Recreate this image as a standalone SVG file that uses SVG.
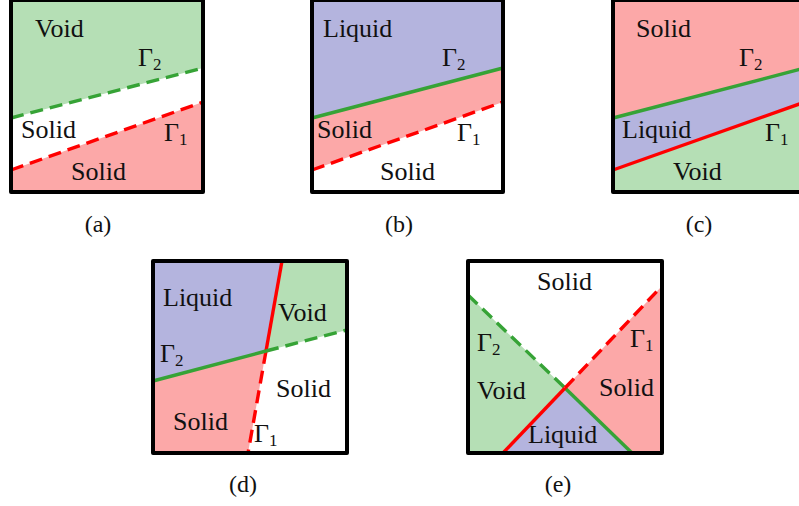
<svg xmlns="http://www.w3.org/2000/svg" width="799" height="506" viewBox="0 0 799 506" font-family="'Liberation Serif', 'Times New Roman', 'DejaVu Serif', serif">
<style>
text{font-family:"Liberation Serif","Times New Roman","DejaVu Serif",serif;font-size:26px;fill:#111}
.lbl{font-size:24px;text-anchor:middle}
.sub{font-size:17px}
.g{fill:#b5dfb5}
.b{fill:#b4b4de}
.p{fill:#fca8a8}
.frame{fill:none;stroke:#000;stroke-width:4;stroke-linejoin:round}
.ln{fill:none;stroke-width:3.4}
.red{stroke:#ff0000}
.grn{stroke:#36a336}
.dash{stroke-dasharray:13 7}
</style>
<rect width="799" height="506" fill="#fff"/>
<g id="panel-a">
<polygon class="g" points="11,0 203,0 203,68 11,118"/>
<polygon class="p" points="11,170 203,102 203,192 11,192"/>
<text x="35" y="37">Void</text>
<text x="138" y="66">Γ<tspan class="sub" dy="4">2</tspan></text>
<text x="21" y="138">Solid</text>
<text x="164" y="141">Γ<tspan class="sub" dy="4">1</tspan></text>
<text x="71" y="180">Solid</text>
<text class="lbl" x="98" y="232">(a)</text>
</g>
<g id="panel-b">
<polygon class="b" points="312,0 503,0 503,68 312,118"/>
<polygon class="p" points="312,118 503,68 503,102 312,170"/>
<text x="323" y="37">Liquid</text>
<text x="442" y="66">Γ<tspan class="sub" dy="4">2</tspan></text>
<text x="317" y="138">Solid</text>
<text x="457" y="141">Γ<tspan class="sub" dy="4">1</tspan></text>
<text x="380" y="180">Solid</text>
<text class="lbl" x="399" y="232">(b)</text>
</g>
<g id="panel-c">
<polygon class="p" points="613,0 805,0 805,68 613,118"/>
<polygon class="b" points="613,118 805,68 805,102 613,170"/>
<polygon class="g" points="613,170 805,102 805,192 613,192"/>
<text x="636" y="37">Solid</text>
<text x="739" y="66">Γ<tspan class="sub" dy="4">2</tspan></text>
<text x="622" y="138">Liquid</text>
<text x="765" y="141">Γ<tspan class="sub" dy="4">1</tspan></text>
<text x="673" y="180">Void</text>
<text class="lbl" x="699" y="232">(c)</text>
</g>
<g id="panel-d">
<polygon class="b" points="153,261 282,261 266,351 153,381"/>
<polygon class="g" points="282,261 347,261 347,330 266,351"/>
<polygon class="p" points="153,381 266,351 248,453 153,453"/>
<text x="163" y="306">Liquid</text>
<text x="278" y="321">Void</text>
<text x="160" y="362">Γ<tspan class="sub" dy="4">2</tspan></text>
<text x="276" y="397">Solid</text>
<text x="173" y="430">Solid</text>
<text x="254" y="442">Γ<tspan class="sub" dy="4">1</tspan></text>
<text class="lbl" x="243" y="492">(d)</text>
</g>
<g id="panel-e">
<polygon class="g" points="468,295 565,388 503,453 468,453"/>
<polygon class="b" points="503,453 565,388 632,453"/>
<polygon class="p" points="565,388 662,286 662,453 632,453"/>
<text x="537" y="290">Solid</text>
<text x="477" y="351">Γ<tspan class="sub" dy="4">2</tspan></text>
<text x="630" y="347">Γ<tspan class="sub" dy="4">1</tspan></text>
<text x="477" y="399">Void</text>
<text x="599" y="396">Solid</text>
<text x="528" y="443">Liquid</text>
<text class="lbl" x="558" y="492">(e)</text>
</g>
<g id="connectors">
<line class="ln grn dash" x1="11" y1="118" x2="203" y2="68"/>
<line class="ln red dash" x1="11" y1="170" x2="203" y2="102"/>
<line class="ln grn" x1="312" y1="118" x2="503" y2="68"/>
<line class="ln red dash" x1="312" y1="170" x2="503" y2="102"/>
<line class="ln grn" x1="613" y1="118" x2="805" y2="68"/>
<line class="ln red" x1="613" y1="170" x2="805" y2="102"/>
<line class="ln red" x1="282" y1="261" x2="266" y2="351"/>
<line class="ln red dash" x1="266" y1="351" x2="248" y2="453"/>
<line class="ln grn" x1="153" y1="381" x2="266" y2="351"/>
<line class="ln grn dash" x1="266" y1="351" x2="347" y2="330"/>
<line class="ln grn dash" x1="468" y1="295" x2="565" y2="388"/>
<line class="ln grn" x1="565" y1="388" x2="632" y2="453"/>
<line class="ln red" x1="503" y1="453" x2="565" y2="388"/>
<line class="ln red dash" x1="565" y1="388" x2="662" y2="286"/>
</g>
<g id="frames">
<rect class="frame" x="11" y="0" width="192" height="192"/>
<rect class="frame" x="312" y="0" width="191" height="192"/>
<rect class="frame" x="613" y="0" width="192" height="192"/>
<rect class="frame" x="153" y="261" width="194" height="192"/>
<rect class="frame" x="468" y="261" width="194" height="192"/>
</g>
</svg>
